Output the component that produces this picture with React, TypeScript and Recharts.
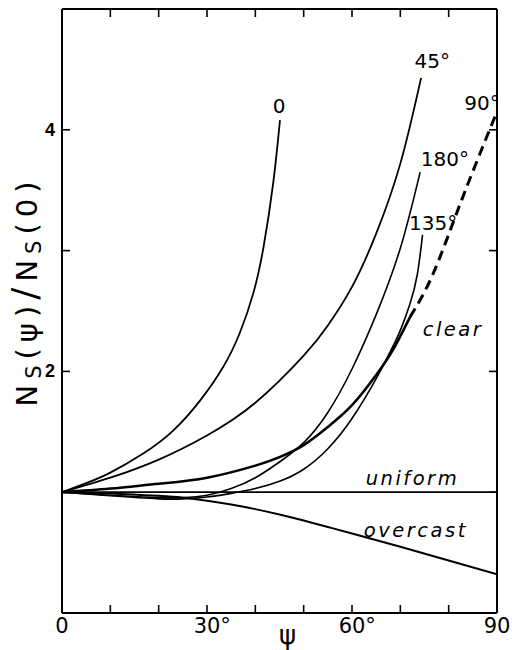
import React from 'react';
import { LineChart, Line, XAxis, YAxis, ReferenceDot } from 'recharts';

// ---- axis ticks ----
const psiTicks = [0, 10, 20, 30, 40, 50, 60, 70, 80, 90];
const psiLabels = [0, 30, 60, 90];
const yTicks = [1, 2, 3, 4];
const yLabels = [2, 4];

// ---- series (psi in degrees, value = Ns(psi)/Ns(0)) ----
const psiAz0 = [0, 5, 9.9, 16.8, 23, 28.6, 33.4, 36.8, 39.6, 41.7, 43.7, 45.1];
const valAz0 = [1, 1.075, 1.16, 1.32, 1.51, 1.76, 2.04, 2.32, 2.65, 3.03, 3.56, 4.08];

const psiAz45 = [0, 10, 20, 30, 40, 50, 55, 60, 65, 70, 74.3];
const valAz45 = [1, 1.12, 1.27, 1.47, 1.74, 2.13, 2.38, 2.7, 3.14, 3.72, 4.43];

const psiAz180 = [0, 10, 20, 25, 30, 35, 40, 45, 50, 55, 60, 65, 70, 74.1];
const valAz180 = [1, 0.975, 0.955, 0.955, 0.975, 1.03, 1.12, 1.25, 1.41, 1.66, 2.02, 2.47, 3.02, 3.65];

const psiAz135 = [0, 10, 20, 25, 30, 35, 40, 45, 50, 55, 60, 65, 68, 70, 72, 73.5, 74.6];
const valAz135 = [1, 0.97, 0.945, 0.945, 0.96, 0.99, 1.03, 1.09, 1.19, 1.36, 1.61, 1.94, 2.17, 2.34, 2.56, 2.8, 3.13];

const psiClear = [0, 10, 20, 30, 40, 45, 50, 55, 60, 65, 68.5, 72];
const valClear = [1, 1.03, 1.07, 1.12, 1.22, 1.29, 1.39, 1.54, 1.72, 1.97, 2.18, 2.45];

const psiClearExt = [72, 76.8, 82.7, 90];
const valClearExt = [2.45, 2.81, 3.42, 4.15];

const psiUniform = [0, 90];
const valUniform = [1, 1];

const psiOvercast = [0, 10, 20, 25, 30, 35, 40, 45, 50, 55, 60, 70, 80, 90];
const valOvercast = [1, 0.99, 0.97, 0.955, 0.93, 0.898, 0.86, 0.815, 0.765, 0.712, 0.658, 0.548, 0.435, 0.32];

// ---- curve annotations ----
const curveLabels = [
  { text: '0', psi: 44.9, v: 4.14, italic: false },
  { text: '45°', psi: 76.6, v: 4.51, italic: false },
  { text: '180°', psi: 79.2, v: 3.7, italic: false },
  { text: '135°', psi: 76.8, v: 3.17, italic: false },
  { text: '90°', psi: 86.9, v: 4.16, italic: false },
  { text: 'clear', psi: 80.9, v: 2.29, italic: true },
  { text: 'uniform', psi: 72.5, v: 1.06, italic: true },
  { text: 'overcast', psi: 73.2, v: 0.63, italic: true },
];

const zip = (xs: number[], ys: number[]) => xs.map((x, i) => ({ psi: x, v: ys[i] }));

const FONT = "'DejaVu Sans', sans-serif";
const BOLD_FONT = "'Liberation Sans', Arial, sans-serif";

const BottomTick = (props: any) => {
  const { x, y, payload } = props;
  const v = payload.value;
  const show = psiLabels.includes(v);
  const fs = 21;
  const digits = String(v);
  const w = digits.length * 0.636 * fs;
  return (
    <g>
      {v !== 0 && v !== 90 && <line x1={x} y1={y} x2={x} y2={y - 8} stroke="#000" strokeWidth={1.6} />}
      {show && (
        <text x={x} y={y + 20} textAnchor="middle" fontFamily={FONT} fontSize={fs} fill="#000">
          {digits}
        </text>
      )}
      {show && v !== 0 && (
        <text x={x + w / 2} y={y + 20} textAnchor="start" fontFamily={FONT} fontSize={fs} fill="#000">
          °
        </text>
      )}
    </g>
  );
};

const TopTick = (props: any) => {
  const { x, y, payload } = props;
  const v = payload.value;
  if (v === 0 || v === 90) return <g />;
  return <line x1={x} y1={y} x2={x} y2={y + 8} stroke="#000" strokeWidth={1.6} />;
};

const LeftTick = (props: any) => {
  const { x, y, payload } = props;
  const v = payload.value;
  return (
    <g>
      <line x1={x} y1={y} x2={x + 8} y2={y} stroke="#000" strokeWidth={1.6} />
      {yLabels.includes(v) && (
        <text x={x - 7} y={y + 6} textAnchor="end" fontFamily={BOLD_FONT} fontWeight="bold" fontSize={18} fill="#000">
          {v}
        </text>
      )}
    </g>
  );
};

const RightTick = (props: any) => {
  const { x, y } = props;
  return <line x1={x} y1={y} x2={x - 8} y2={y} stroke="#000" strokeWidth={1.6} />;
};

const YTitle = (props: any) => {
  const vb = props.viewBox || { x: 0, y: 9, width: 62, height: 604 };
  const bx = vb.x + 37;
  const cy = vb.y + vb.height / 2 - 20;
  const fs = 29;
  const sub = 21;
  return (
    <text
      transform={`translate(${bx},${cy}) rotate(-90)`}
      x={0}
      y={0}
      textAnchor="middle"
      fontFamily={FONT}
      fontSize={fs}
      fill="#000"
      letterSpacing={6}
    >
      <tspan>N</tspan>
      <tspan fontSize={sub} dy={4}>S</tspan>
      <tspan fontSize={fs} dy={-4}>(ψ)</tspan>
      <tspan fontSize={36}>/</tspan>
      <tspan fontSize={fs}>N</tspan>
      <tspan fontSize={sub} dy={4}>S</tspan>
      <tspan fontSize={fs} dy={-4}>(0)</tspan>
    </text>
  );
};

const XTitle = (props: any) => {
  const vb = props.viewBox || { x: 62, y: 613, width: 435, height: 37 };
  return (
    <text x={vb.x + vb.width / 2 + 8} y={vb.y + 31} textAnchor="middle" fontFamily={FONT} fontSize={26} fill="#000">
      ψ
    </text>
  );
};

const makeLabelShape = (text: string, italic: boolean) => (p: any) => (
  <text
    x={p.cx}
    y={p.cy}
    textAnchor="middle"
    fontFamily={FONT}
    fontSize={italic ? 19.5 : 20}
    fontStyle={italic ? 'italic' : 'normal'}
    letterSpacing={italic ? 2.5 : 0}
    fill="#000"
  >
    {text}
  </text>
);

export default function App() {
  const common = {
    type: 'natural' as const,
    dataKey: 'v',
    stroke: '#000',
    dot: false,
    activeDot: false,
    isAnimationActive: false,
  };
  return (
    <div style={{ position: 'absolute', left: 0, top: 0, width: 512, height: 650, background: '#fff' }}>
      <LineChart width={512} height={650} margin={{ top: 6, right: 12, bottom: 0, left: 0 }}>
        <XAxis
          xAxisId={0}
          type="number"
          dataKey="psi"
          domain={[0, 90]}
          ticks={psiTicks}
          interval={0}
          orientation="bottom"
          height={37}
          tickSize={0}
          tickMargin={0}
          tickLine={false}
          axisLine={{ stroke: '#000', strokeWidth: 2 }}
          tick={<BottomTick />}
          allowDataOverflow
          label={<XTitle />}
        />
        <XAxis
          xAxisId="top"
          type="number"
          dataKey="psi"
          domain={[0, 90]}
          ticks={psiTicks}
          interval={0}
          orientation="top"
          height={3}
          tickSize={0}
          tickMargin={0}
          tickLine={false}
          axisLine={{ stroke: '#000', strokeWidth: 2 }}
          tick={<TopTick />}
          allowDataOverflow
        />
        <YAxis
          yAxisId={0}
          type="number"
          domain={[0, 5]}
          ticks={yTicks}
          interval={0}
          orientation="left"
          width={62}
          tickSize={0}
          tickMargin={0}
          tickLine={false}
          axisLine={{ stroke: '#000', strokeWidth: 2 }}
          tick={<LeftTick />}
          allowDataOverflow
          label={<YTitle />}
        />
        <YAxis
          yAxisId="right"
          type="number"
          domain={[0, 5]}
          ticks={yTicks}
          interval={0}
          orientation="right"
          width={3}
          tickSize={0}
          tickMargin={0}
          tickLine={false}
          axisLine={{ stroke: '#000', strokeWidth: 2 }}
          tick={<RightTick />}
          allowDataOverflow
        />
        <Line {...common} xAxisId="top" yAxisId="right" data={zip(psiUniform, valUniform)} strokeWidth={1.8} />
        <Line {...common} data={zip(psiOvercast, valOvercast)} strokeWidth={2} />
        <Line {...common} data={zip(psiAz0, valAz0)} strokeWidth={1.8} />
        <Line {...common} data={zip(psiAz45, valAz45)} strokeWidth={1.8} />
        <Line {...common} data={zip(psiAz180, valAz180)} strokeWidth={1.6} />
        <Line {...common} data={zip(psiAz135, valAz135)} strokeWidth={1.6} />
        <Line {...common} data={zip(psiClear, valClear)} strokeWidth={2.6} />
        <Line {...common} data={zip(psiClearExt, valClearExt)} strokeWidth={3} strokeDasharray="10 6" />
        {curveLabels.map((l) => (
          <ReferenceDot
            key={l.text}
            x={l.psi}
            y={l.v}
            r={0}
            ifOverflow="visible"
            shape={makeLabelShape(l.text, l.italic)}
          />
        ))}
      </LineChart>
    </div>
  );
}
